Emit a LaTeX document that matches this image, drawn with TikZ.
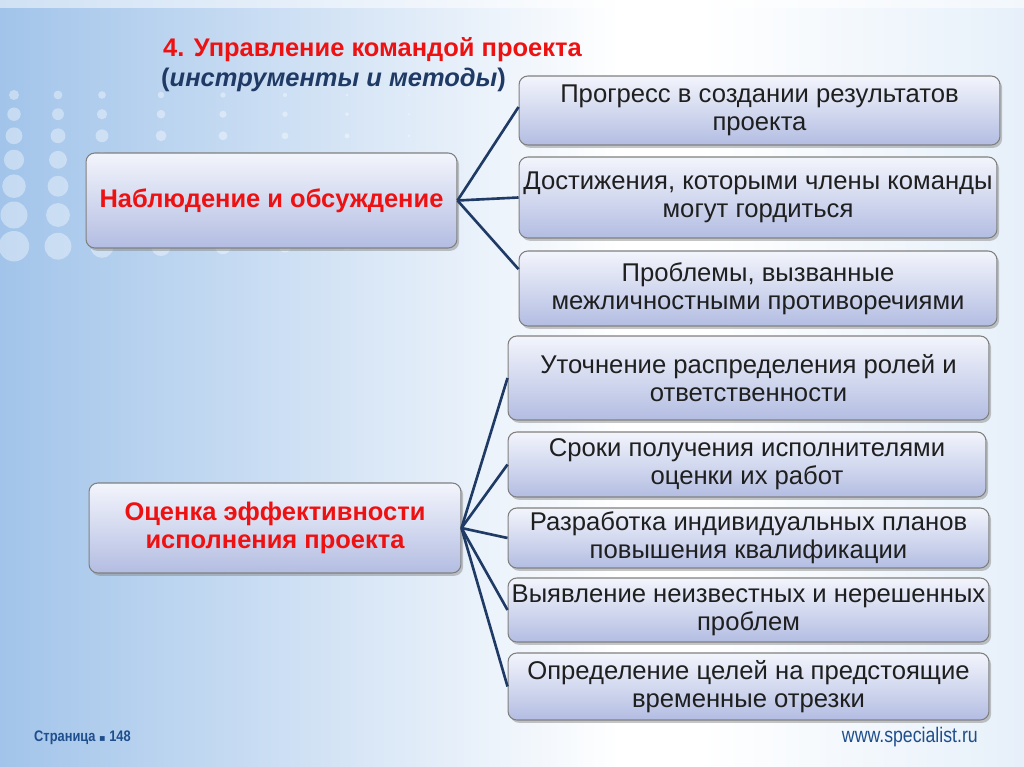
\documentclass[tikz,border=0pt]{standalone}
\usepackage{fontspec}
\setmainfont{Liberation Sans}
\newfontfamily\narrowfont[FakeStretch=0.84]{Liberation Sans}
\newfontfamily\dejavu{DejaVu Sans}
\usetikzlibrary{shadows}
\definecolor{navy}{HTML}{1F3A64}
\definecolor{foot}{HTML}{1F4E8C}
\definecolor{boxtop}{HTML}{F3F5FC}
\definecolor{boxbot}{HTML}{B3BDE2}
\definecolor{redt}{HTML}{EE1111}
\definecolor{bgl}{HTML}{A2C4EA}
\definecolor{bgm}{HTML}{D6E6F6}
\tikzset{
  box/.style={draw=black!50, line width=0.6pt, rounded corners=5pt,
    top color=boxtop, bottom color=boxbot,
    drop shadow={shadow xshift=1.2pt, shadow yshift=-1.6pt, opacity=0.45},
    align=center, inner sep=2pt, text=black!88,
    font=\fontsize{14.6}{15.9}\selectfont},
  mainbox/.style={box, text=redt, font=\fontsize{14.5}{15.6}\selectfont\bfseries},
  link/.style={draw=navy, line width=1.5pt},
  dot/.style={fill=white, opacity=0.38}
}
\begin{document}
\begin{tikzpicture}[x=0.02cm,y=-0.02cm]
\useasboundingbox (0,0) rectangle (1024,767);
% background
\shade[left color=bgl, right color=white] (0,0) rectangle (620,767);
\fill[white] (619,0) rectangle (1024,767);
\shade[left color=white, right color=bgm!60] (700,0) rectangle (1024,767);
\fill[white, opacity=0.5] (0,0) rectangle (1024,8);
% dots
\foreach \cx/\k in {14/0,56/1,98/2,155/3,215/4,275/5,335/6,395/7}{
  \foreach \j in {0,...,6}{
    \pgfmathsetmacro{\rr}{max(0,(5+1.7*\j)*(1-\k/8.5))}
    \pgfmathsetmacro{\cy}{95+18*\j+1.2*\j*\j}
    \fill[dot] (\cx+\k*2,\cy) circle[radius=\rr];
  }
}
% title
\node[anchor=west, text=redt, font=\fontsize{14.5}{17}\selectfont\bfseries] (t1) at (157,50) {4. Управление командой проекта};
\node[anchor=west, text=navy, font=\fontsize{14.5}{17}\selectfont\bfseries] (t2) at (155,80) {(\textit{инструменты и методы})};
% left boxes
\node[mainbox, minimum width=7.42cm, minimum height=1.9cm] (a) at (271.5,200.5) {Наблюдение и обсуждение};
\node[mainbox, minimum width=7.44cm, minimum height=1.8cm] (b) at (275,528) {Оценка эффективности\\исполнения проекта};
% right boxes, group 1
\node[box, minimum width=9.62cm, minimum height=1.38cm] (r1) at (759.5,110.5) {Прогресс в создании результатов\\проекта};
\node[box, minimum width=9.56cm, minimum height=1.62cm] (r2) at (758,197.5) {Достижения, которыми члены команды\\могут гордиться};
\node[box, minimum width=9.56cm, minimum height=1.5cm] (r3) at (758,288.5) {Проблемы, вызванные\\межличностными противоречиями};
% right boxes, group 2
\node[box, minimum width=9.62cm, minimum height=1.68cm] (s1) at (748.5,378) {Уточнение распределения ролей и\\ответственности};
\node[box, minimum width=9.56cm, minimum height=1.3cm] (s2) at (747,464.5) {Сроки получения исполнителями\\оценки их работ};
\node[box, minimum width=9.62cm, minimum height=1.2cm] (s3) at (748.5,538) {Разработка индивидуальных планов\\повышения квалификации};
\node[box, minimum width=9.62cm, minimum height=1.28cm] (s4) at (748.5,610) {Выявление неизвестных и нерешенных\\проблем};
\node[box, minimum width=9.62cm, minimum height=1.34cm] (s5) at (748.5,686.5) {Определение целей на предстоящие\\временные отрезки};
% connectors
\draw[link] (a.east) -- ([yshift=2pt]r1.west);
\draw[link] (a.east) -- (r2.west);
\draw[link] (a.east) -- ([yshift=11pt]r3.west);
\foreach \t in {s1,s2,s3,s4,s5} \draw[link] (b.east) -- (\t.west);
% footer
\node[anchor=west, text=foot, font=\narrowfont\fontsize{8.7}{11}\selectfont\bfseries] (pg) at (28,738) {Страница {\dejavu\fontsize{5.5}{8}\selectfont ▪} 148};
\node[anchor=east, text=foot, font=\narrowfont\fontsize{12}{14}\selectfont] (url) at (984,737) {www.specialist.ru};
\end{tikzpicture}
\end{document}
